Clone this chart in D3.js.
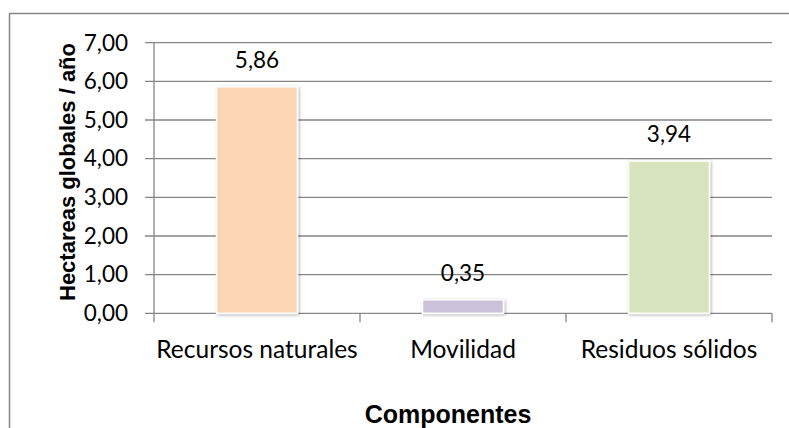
<!DOCTYPE html>
<html>
<head>
<meta charset="utf-8">
<script src="https://cdn.jsdelivr.net/npm/d3@7"></script>
<style>
  html, body { margin: 0; padding: 0; background: #fff; }
  svg { display: block; }
</style>
</head>
<body>
<svg id="chart" width="789" height="428"></svg>
<script>
// ---- data ----
const categories = ["Recursos naturales", "Movilidad", "Residuos sólidos"];
const values = [5.86, 0.35, 3.94];
const yTicks = [0, 1, 2, 3, 4, 5, 6, 7];
const yTitle = "Hectareas globales / año";
const xTitle = "Componentes";

// ---- styles ----
const barColors = ["#FCD5B5", "#CCC1DA", "#D7E4BD"];
const gridColor = "#868686";
const labelFont = "Lato, 'Open Sans', sans-serif";
const titleFont = "'Liberation Sans', Arial, sans-serif";

const svg = d3.select("#chart");
const locale = d3.formatLocale({decimal: ",", thousands: ".", grouping: [3], currency: ["", "€"]});
const fmt = locale.format(".2f");

const plot = {left: 154, right: 772, top: 42.7, bottom: 313.3};

const x = d3.scaleBand().domain(categories).range([plot.left, plot.right]).padding(0);
const y = d3.scaleLinear().domain([0, 7]).range([plot.bottom, plot.top]);
const barW = x.bandwidth() * 0.393;

// defs: shadow
const defs = svg.append("defs");
const f = defs.append("filter").attr("id", "shadow").attr("x", "-20%").attr("y", "-20%").attr("width", "140%").attr("height", "140%");
f.append("feDropShadow").attr("dx", 1).attr("dy", 1).attr("stdDeviation", 1.6)
  .attr("flood-color", "#000").attr("flood-opacity", 0.35);

// outer border (cropped at right/bottom)
svg.append("rect").attr("x", 9.5).attr("y", 13.5).attr("width", 900).attr("height", 600)
  .attr("fill", "none").attr("stroke", gridColor).attr("stroke-width", 1.5);

// gridlines + y ticks
svg.append("g").selectAll("line").data(yTicks).join("line")
  .attr("x1", plot.left - 9).attr("x2", plot.right)
  .attr("y1", d => y(d)).attr("y2", d => y(d))
  .attr("stroke", gridColor).attr("stroke-width", 1.3);

// y axis line
svg.append("line").attr("x1", plot.left).attr("x2", plot.left)
  .attr("y1", y(7)).attr("y2", y(0)).attr("stroke", gridColor).attr("stroke-width", 1.3);

// x tick marks at band boundaries
const xBounds = categories.map(c => x(c)).concat([x(categories[categories.length - 1]) + x.bandwidth()]);
svg.append("g").selectAll("line").data(xBounds).join("line")
  .attr("x1", d => d).attr("x2", d => d)
  .attr("y1", y(0)).attr("y2", y(0) + 9)
  .attr("stroke", gridColor).attr("stroke-width", 1.3);

// y tick labels
svg.append("g").selectAll("text").data(yTicks).join("text")
  .attr("x", 128).attr("y", d => y(d) + 7.8)
  .attr("text-anchor", "end")
  .attr("font-family", labelFont).attr("font-size", 22.5).attr("fill", "#000")
  .text(d => fmt(d));

// bars
svg.append("g").selectAll("rect").data(categories).join("rect")
  .attr("x", c => x(c) + (x.bandwidth() - barW) / 2)
  .attr("width", barW)
  .attr("y", (c, i) => y(values[i]))
  .attr("height", (c, i) => y(0) - y(values[i]))
  .attr("fill", (c, i) => barColors[i])
  .attr("stroke", "#fff").attr("stroke-width", 1.5)
  .attr("filter", "url(#shadow)");

// data labels
svg.append("g").selectAll("text").data(categories).join("text")
  .attr("x", c => x(c) + x.bandwidth() / 2)
  .attr("y", (c, i) => y(values[i]) - 19)
  .attr("text-anchor", "middle")
  .attr("font-family", labelFont).attr("font-size", 22.5).attr("fill", "#000")
  .text((c, i) => fmt(values[i]));

// category labels
svg.append("g").selectAll("text").data(categories).join("text")
  .attr("x", c => x(c) + x.bandwidth() / 2)
  .attr("y", 358)
  .attr("text-anchor", "middle")
  .attr("font-family", labelFont).attr("font-size", 24.5).attr("fill", "#000")
  .text(c => c);

// axis titles
svg.append("text")
  .attr("transform", "translate(75,172) rotate(-90)")
  .attr("text-anchor", "middle")
  .attr("font-family", titleFont).attr("font-weight", "bold").attr("font-size", 22)
  .text(yTitle);

svg.append("text")
  .attr("x", 448).attr("y", 423)
  .attr("text-anchor", "middle")
  .attr("font-family", titleFont).attr("font-weight", "bold").attr("font-size", 25)
  .text(xTitle);
</script>
</body>
</html>
